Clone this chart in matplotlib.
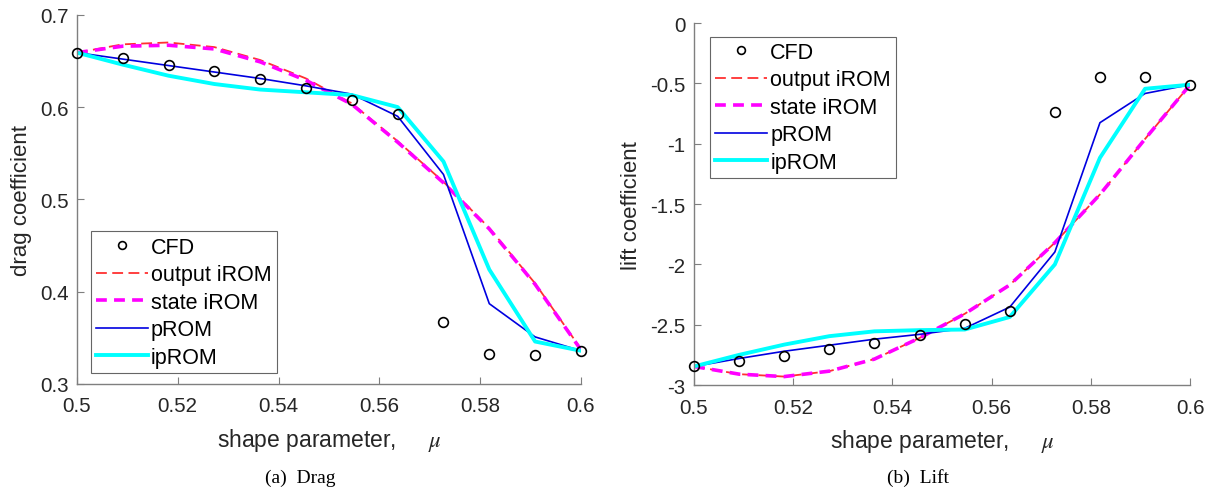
import numpy as np
import matplotlib
matplotlib.use("Agg")
import matplotlib.pyplot as plt

plt.rcParams['font.family'] = ['Liberation Sans', 'DejaVu Sans']
plt.rcParams['mathtext.fontset'] = 'stix'

# shape parameter samples
mu = [0.5, 0.50909, 0.51818, 0.52727, 0.53636, 0.54545,
      0.55455, 0.56364, 0.57273, 0.58182, 0.59091, 0.6]

# drag coefficient
drag_cfd = [0.659, 0.653, 0.646, 0.639, 0.630, 0.621,
            0.608, 0.592, 0.367, 0.332, 0.331, 0.336]
drag_out_irom = [0.659, 0.668, 0.670, 0.665, 0.651, 0.631,
                 0.604, 0.563, 0.519, 0.469, 0.409, 0.338]
drag_state_irom = [0.659, 0.666, 0.667, 0.663, 0.649, 0.629,
                   0.603, 0.562, 0.518, 0.468, 0.408, 0.337]
drag_prom = [0.659, 0.652, 0.645, 0.638, 0.631, 0.623,
             0.614, 0.590, 0.527, 0.387, 0.351, 0.336]
drag_iprom = [0.659, 0.646, 0.634, 0.625, 0.619, 0.616,
              0.613, 0.600, 0.541, 0.424, 0.346, 0.336]

# lift coefficient
lift_cfd = [-2.846, -2.80, -2.757, -2.703, -2.648, -2.585,
            -2.49, -2.387, -0.737, -0.443, -0.448, -0.509]
lift_out_irom = [-2.846, -2.91, -2.93, -2.885, -2.785, -2.61,
                 -2.41, -2.17, -1.82, -1.42, -0.96, -0.51]
lift_state_irom = [-2.846, -2.91, -2.93, -2.885, -2.785, -2.61,
                   -2.41, -2.17, -1.82, -1.42, -0.96, -0.51]
lift_prom = [-2.846, -2.78, -2.72, -2.67, -2.62, -2.58,
             -2.53, -2.354, -1.897, -0.825, -0.583, -0.51]
lift_iprom = [-2.846, -2.75, -2.665, -2.595, -2.555, -2.545,
              -2.54, -2.436, -2.0, -1.116, -0.544, -0.51]

xticks = [0.5, 0.52, 0.54, 0.56, 0.58, 0.6]
xticklabels = ['0.5', '0.52', '0.54', '0.56', '0.58', '0.6']
drag_yticks = [0.3, 0.4, 0.5, 0.6, 0.7]
lift_yticks = [-3, -2.5, -2, -1.5, -1, -0.5, 0]
labels = ['CFD', 'output iROM', 'state iROM', 'pROM', 'ipROM']

AXC = '#262626'
XLABEL = r'shape parameter,     $\mu$'


def draw(ax, cfd, out_irom, state_irom, prom, iprom):
    ax.plot(mu, cfd, 'o', mfc='none', mec='k', ms=7, mew=1.2, label=labels[0],
            clip_on=False, zorder=5)
    ax.plot(mu, out_irom, '--', color='#ff3030', lw=1.3, dashes=(6, 3), label=labels[1])
    ax.plot(mu, state_irom, '--', color='#ff00ff', lw=2.6, dashes=(3, 2), label=labels[2])
    ax.plot(mu, prom, '-', color='#0000e0', lw=1.2, label=labels[3])
    ax.plot(mu, iprom, '-', color='#00ffff', lw=2.8, label=labels[4])
    for s in ['top', 'right']:
        ax.spines[s].set_visible(False)
    for s in ['left', 'bottom']:
        ax.spines[s].set_color('#7f7f7f')
        ax.spines[s].set_linewidth(1.0)
    ax.tick_params(direction='in', length=5, width=0.8, color='#7f7f7f',
                   labelsize=14.8, labelcolor=AXC)
    ax.tick_params(axis='x', pad=9)
    ax.tick_params(axis='y', pad=6)
    ax.set_xlim(0.5, 0.6)
    ax.set_xticks(xticks)
    ax.set_xticklabels(xticklabels)
    ax.set_xlabel(XLABEL, fontsize=16.5, color=AXC)
    ax.xaxis.set_label_coords(0.5, -0.115)


def style_legend(leg):
    leg.get_frame().set_edgecolor('#404040')
    leg.get_frame().set_linewidth(0.8)


leg_kw = dict(fontsize=15.5, frameon=True, fancybox=False, handlelength=2.4,
              handletextpad=0.15, labelspacing=0.3, borderpad=0.25,
              borderaxespad=0, markerscale=0.8)

fig = plt.figure(figsize=(12.1, 4.89), dpi=100)

ax1 = fig.add_axes([0.0636, 0.2127, 0.4165, 0.755])
draw(ax1, drag_cfd, drag_out_irom, drag_state_irom, drag_prom, drag_iprom)
ax1.set_ylim(0.3, 0.7)
ax1.set_yticks(drag_yticks)
ax1.set_yticklabels(['0.3', '0.4', '0.5', '0.6', '0.7'])
ax1.set_ylabel('drag coefficient', fontsize=16, color=AXC, labelpad=6)
leg1 = ax1.legend(loc='lower left', bbox_to_anchor=(0.027, 0.03), **leg_kw)
style_legend(leg1)

ax2 = fig.add_axes([0.5736, 0.2106, 0.41, 0.740])
draw(ax2, lift_cfd, lift_out_irom, lift_state_irom, lift_prom, lift_iprom)
ax2.set_ylim(-3, 0)
ax2.set_yticks(lift_yticks)
ax2.set_yticklabels(['-3', '-2.5', '-2', '-1.5', '-1', '-0.5', '0'])
ax2.set_ylabel('lift coefficient', fontsize=16, color=AXC, labelpad=6)
leg2 = ax2.legend(loc='upper left', bbox_to_anchor=(0.032, 0.963), **leg_kw)
style_legend(leg2)

fig.text(300 / 1210, 1 - 478 / 489, '(a)  Drag', family='Liberation Serif',
         fontsize=14, ha='center', va='center')
fig.text(918 / 1210, 1 - 478 / 489, '(b)  Lift', family='Liberation Serif',
         fontsize=14, ha='center', va='center')

fig.savefig('out.png', dpi=100)
